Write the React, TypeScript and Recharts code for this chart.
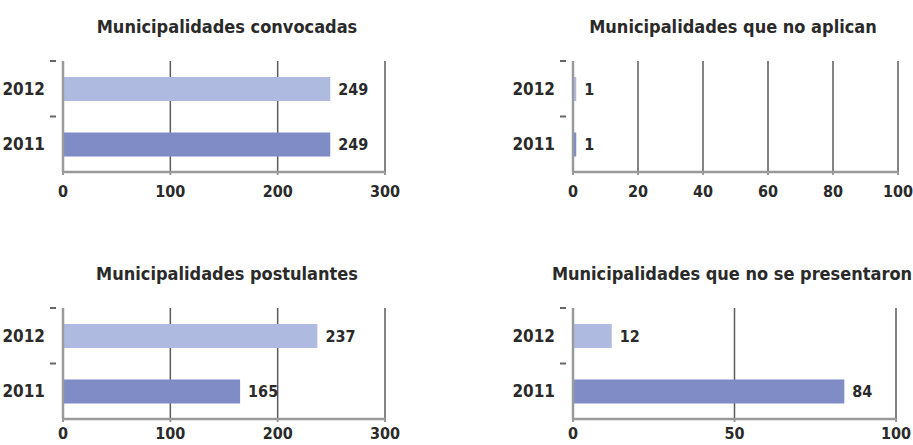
import React from 'react';
import { BarChart, Bar, XAxis, YAxis, CartesianGrid, LabelList, Cell } from 'recharts';

const years = ['2012', '2011'];
const convocadas = [249, 249];
const noAplican = [1, 1];
const postulantes = [237, 165];
const noSePresentaron = [12, 84];

const ticks300 = [0, 100, 200, 300];
const ticks100by20 = [0, 20, 40, 60, 80, 100];
const ticks100by50 = [0, 50, 100];

const BAR_COLORS = ['#aebae0', '#7f8cc6'];
const FONT = '"DejaVu Sans Condensed", "Liberation Sans Narrow", "DejaVu Sans", sans-serif';
const TEXT = '#2a2a2a';
const AXIS = '#9a9a9a';
const GRID = '#5a5a5a';
const COND = { fontStretch: 'condensed' as const };

const toRows = (values: number[]) => years.map((year, i) => ({ year, value: values[i] }));

const YearTick = (props: any) => {
  const { x, y, payload, bandHalf } = props;
  return (
    <g>
      <text x={x - 10} y={y} dy={6} textAnchor="end" fill={TEXT} fontSize={17} fontFamily={FONT} fontWeight={700} style={COND}>
        {payload.value}
      </text>
      <line x1={x - 5} x2={x + 1} y1={y - bandHalf} y2={y - bandHalf} stroke="#666" strokeWidth={2} />
    </g>
  );
};

type PanelProps = {
  title: string;
  values: number[];
  domain: [number, number];
  ticks: number[];
  left: number;
  top: number;
  width: number;
  rightGap: number;
  yWidth: number;
  titleX: number;
  tickGap: number;
};

const Panel = ({ title, values, domain, ticks, left, top, width, rightGap, yWidth, titleX, tickGap }: PanelProps) => {
  const data = toRows(values);
  const height = 162;
  const marginTop = 21;
  const plotH = height - marginTop - 30;
  return (
    <div style={{ position: 'absolute', left, top }}>
      <div
        style={{
          position: 'absolute',
          left: titleX - 200,
          width: 400,
          top: -24,
          textAlign: 'center',
          fontFamily: FONT,
          fontStretch: 'condensed',
          fontWeight: 600,
          fontSize: 18,
          color: TEXT,
          whiteSpace: 'nowrap',
        }}
      >
        {title}
      </div>
      <BarChart
        width={width}
        height={height + 20}
        data={data}
        layout="vertical"
        margin={{ top: marginTop, right: rightGap, bottom: 20, left: 0 }}
      >
        <CartesianGrid horizontal={false} vertical stroke={GRID} strokeWidth={1.5} />
        <XAxis
          type="number"
          domain={domain}
          ticks={ticks}
          interval={0}
          height={30}
          axisLine={{ stroke: AXIS, strokeWidth: 2.5 }}
          tickLine={{ stroke: AXIS, strokeWidth: 2 }}
          tickSize={3}
          tickMargin={tickGap}
          tick={{ fill: TEXT, fontSize: 16, fontFamily: FONT, fontWeight: 700, style: COND }}
        />
        <YAxis
          type="category"
          dataKey="year"
          width={yWidth}
          axisLine={{ stroke: AXIS, strokeWidth: 2.5 }}
          tickLine={false}
          tick={<YearTick bandHalf={plotH / 4} />}
        />
        <Bar dataKey="value" barSize={24} isAnimationActive={false}>
          {data.map((_, i) => (
            <Cell key={i} fill={BAR_COLORS[i]} />
          ))}
          <LabelList
            dataKey="value"
            position="right"
            offset={8}
            fill={TEXT}
            fontSize={16}
            fontFamily={FONT}
            fontWeight={700}
            style={COND}
          />
        </Bar>
      </BarChart>
    </div>
  );
};

export default function App() {
  return (
    <div style={{ position: 'absolute', left: 0, top: 0, width: 913, height: 445, background: '#fff', overflow: 'hidden' }}>
      <Panel title="Municipalidades convocadas" values={convocadas} domain={[0, 300]} ticks={ticks300}
        left={0} top={40} width={420} rightGap={35} yWidth={63} titleX={227} tickGap={11} />
      <Panel title="Municipalidades que no aplican" values={noAplican} domain={[0, 100]} ticks={ticks100by20}
        left={480} top={40} width={433} rightGap={15} yWidth={93} titleX={253} tickGap={11} />
      <Panel title="Municipalidades postulantes" values={postulantes} domain={[0, 300]} ticks={ticks300}
        left={0} top={287} width={420} rightGap={35} yWidth={63} titleX={227} tickGap={6} />
      <Panel title="Municipalidades que no se presentaron" values={noSePresentaron} domain={[0, 100]} ticks={ticks100by50}
        left={480} top={287} width={433} rightGap={17} yWidth={93} titleX={252} tickGap={6} />
    </div>
  );
}
